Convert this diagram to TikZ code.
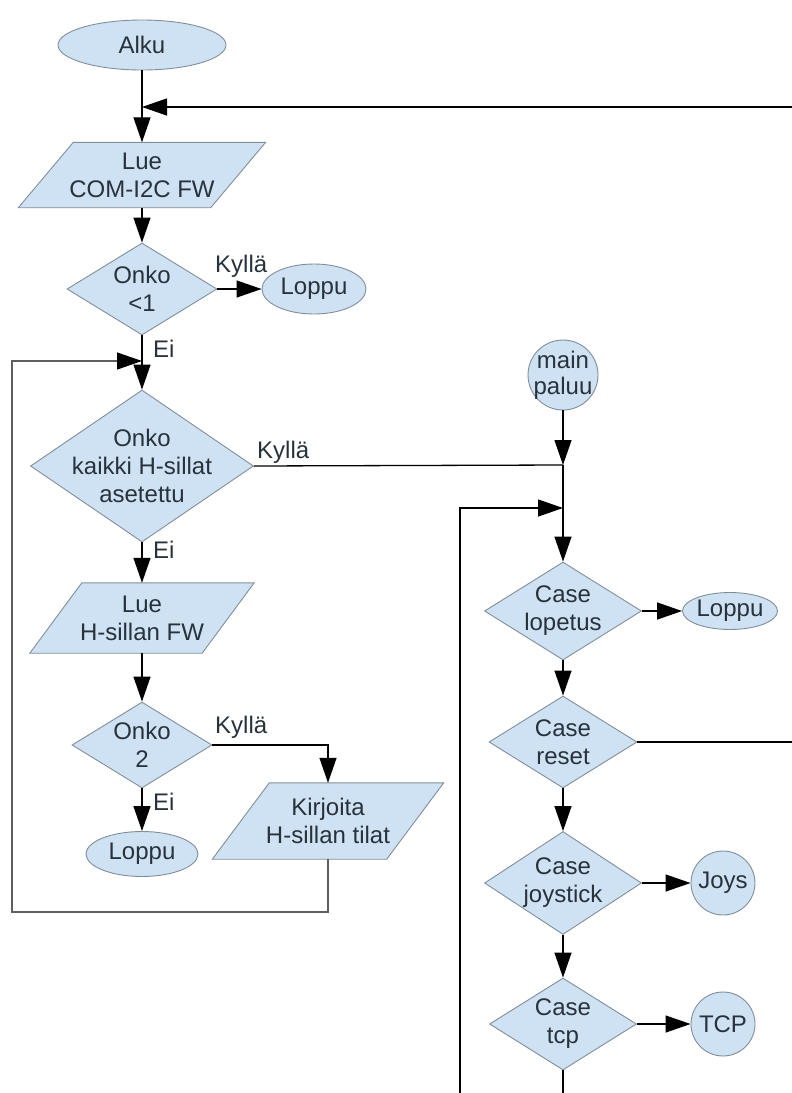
\documentclass[tikz,border=0pt]{standalone}
\usepackage{fontspec}
\setmainfont{Liberation Sans}
\usetikzlibrary{shapes.geometric,arrows.meta,backgrounds,calc}
\definecolor{shapefill}{RGB}{207,226,243}
\definecolor{shapeline}{RGB}{128,142,154}
\definecolor{textcol}{RGB}{40,50,60}
\definecolor{loopcol}{RGB}{95,95,95}
\tikzset{
  shp/.style={draw=shapeline, fill=shapefill, line width=0.9pt, inner sep=0pt},
  txt/.style={text=textcol, align=center, inner sep=0pt, font=\fontsize{24}{28}\selectfont},
  lbl/.style={text=textcol, inner sep=0pt, font=\fontsize{24}{28}\selectfont},
  pbox/.style={inner sep=0pt},
  conn/.style={line width=1.3pt, black},
  arr/.style={conn, -{Triangle[length=25pt,width=17pt]}},
  loopline/.style={line width=1.1pt, loopcol, -{Triangle[length=25pt,width=17pt,color=black]}},
}
\begin{document}
\begin{tikzpicture}[x=1pt,y=-1pt]
\useasboundingbox (0,0) rectangle (792,1093);

% ---- left column ----
\node[shp, ellipse, minimum width=168pt, minimum height=50pt] (alku) at (142,45) {};
\node[txt] (alkut) at (alku) {Alku};

\node[pbox, minimum width=192pt, minimum height=65pt] (lue1) at (142,175) {};
\node[txt] (lue1t) at (lue1) {Lue\\COM-I2C FW};

\node[shp, diamond, minimum width=150pt, minimum height=92pt] (onko1) at (142,289) {};
\node[txt] (onko1t) at (onko1) {Onko\\<1};

\node[shp, ellipse, minimum width=104pt, minimum height=50pt] (loppu1) at (314,289) {};
\node[txt] (loppu1t) at (loppu1) {Loppu};

\node[shp, diamond, minimum width=223pt, minimum height=152pt] (bigd) at (142,466) {};
\node[txt] (bigdt) at (bigd) {Onko\\kaikki H-sillat\\asetettu};

\node[pbox, minimum width=172pt, minimum height=70pt] (lue2) at (142,618) {};
\node[txt] (lue2t) at (lue2) {Lue\\H-sillan FW};

\node[shp, diamond, minimum width=140pt, minimum height=86pt] (onko2) at (142,745) {};
\node[txt] (onko2t) at (onko2) {Onko\\2};

\node[shp, ellipse, minimum width=112pt, minimum height=45pt] (loppu2) at (142,854) {};
\node[txt] (loppu2t) at (loppu2) {Loppu};

\node[pbox, minimum width=174pt, minimum height=76pt] (kirj) at (328,821) {};
\node[txt] (kirjt) at (kirj) {Kirjoita\\H-sillan tilat};

% ---- right column ----
\node[shp, circle, minimum size=70pt] (paluu) at (563,375) {};
\node[txt, font=\fontsize{24}{26}\selectfont] (paluut) at (paluu) {main\\paluu};

\node[shp, diamond, minimum width=157pt, minimum height=98pt] (lopetus) at (563,611) {};
\node[txt] (lopetust) at (lopetus) {Case\\lopetus};

\node[shp, ellipse, minimum width=95pt, minimum height=37pt] (loppu3) at (730,611) {};
\node[txt] (loppu3t) at (loppu3) {Loppu};

\node[shp, diamond, minimum width=148pt, minimum height=92pt] (reset) at (563,742) {};
\node[txt] (resett) at (reset) {Case\\reset};

\node[shp, diamond, minimum width=157pt, minimum height=103pt] (joy) at (563,883) {};
\node[txt] (joyt) at (joy) {Case\\joystick};

\node[shp, circle, minimum size=64pt] (joys) at (723,883) {};
\node[txt] (joyst) at (joys) {Joys};

\node[shp, diamond, minimum width=147pt, minimum height=92pt] (tcp) at (563,1024) {};
\node[txt] (tcpt) at (tcp) {Case\\tcp};

\node[shp, circle, minimum size=64pt] (tcpc) at (723,1024) {};
\node[txt] (tcpct) at (tcpc) {TCP};

% parallelograms behind their text
\begin{scope}[on background layer]
  \draw[shp] ($(lue1.north west)+(27.5,0)$) -- ($(lue1.north east)+(27.5,0)$)
            -- ($(lue1.south east)-(27.5,0)$) -- ($(lue1.south west)-(27.5,0)$) -- cycle;
  \draw[shp] ($(lue2.north west)+(26,0)$) -- ($(lue2.north east)+(26,0)$)
            -- ($(lue2.south east)-(26,0)$) -- ($(lue2.south west)-(26,0)$) -- cycle;
  \draw[shp] ($(kirj.north west)+(28.5,0)$) -- ($(kirj.north east)+(28.5,0)$)
            -- ($(kirj.south east)-(28.5,0)$) -- ($(kirj.south west)-(28.5,0)$) -- cycle;
\end{scope}

% ---- junction coordinates ----
\coordinate (j1) at (142,107);
\coordinate (jr1) at (805,107);
\coordinate (jr2) at (805,742);
\coordinate (j2) at (142,361);
\coordinate (jl1) at (12,361);
\coordinate (jl2) at (12,912);
\coordinate (jk) at (328,912);
\coordinate (j3) at (563,465);
\coordinate (j4) at (563,508);
\coordinate (jb) at (460,508);
\coordinate (jbb) at (460,1110);
\coordinate (tcpout) at (563,1110);

% ---- connectors ----
\draw[arr] (alku.south) -- (lue1.north);
\draw[arr] (reset.east) -- (jr2) -- (jr1) -- (j1);
\draw[arr] (lue1.south) -- (onko1.north);
\draw[arr] (onko1.east) -- (loppu1.west);
\draw[arr] (onko1.south) -- (bigd.north);
\draw[loopline] (kirj.south) -- (jk) -- (jl2) -- (jl1) -- (j2);
\draw[arr] (bigd.south) -- (lue2.north);
\draw[arr] (lue2.south) -- (onko2.north);
\draw[arr] (onko2.south) -- (loppu2.north);
\draw[arr] (onko2.east) -| (kirj.north);

\draw[conn] (bigd.east) -- (j3);
\draw[arr] (paluu.south) -- (j3);
\draw[arr] (j3) -- (lopetus.north);
\draw[arr] (jbb) -- (jb) -- (j4);
\draw[arr] (lopetus.east) -- (loppu3.west);
\draw[arr] (lopetus.south) -- (reset.north);
\draw[arr] (reset.south) -- (joy.north);
\draw[arr] (joy.east) -- (joys.west);
\draw[arr] (joy.south) -- (tcp.north);
\draw[arr] (tcp.east) -- (tcpc.west);
\draw[conn] (tcp.south) -- (tcpout);

% ---- branch labels ----
\node[lbl, anchor=base west] (ky1) at (215,272) {Kyllä};
\node[lbl, anchor=base west] (ei1) at (153,357) {Ei};
\node[lbl, anchor=base west] (ky2) at (257,458) {Kyllä};
\node[lbl, anchor=base west] (ei2) at (153,558) {Ei};
\node[lbl, anchor=base west] (ky3) at (215,733) {Kyllä};
\node[lbl, anchor=base west] (ei3) at (153,810) {Ei};
\end{tikzpicture}
\end{document}
